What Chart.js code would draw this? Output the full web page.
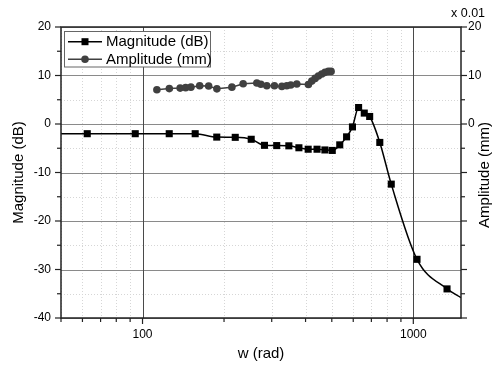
<!DOCTYPE html>
<html><head><meta charset="utf-8">
<script src="https://cdn.jsdelivr.net/npm/chart.js@4/dist/chart.umd.min.js"></script>
<style>html,body{margin:0;padding:0;background:#fff;}canvas{display:block}</style>
</head><body>
<canvas id="c" width="494" height="366"></canvas>
<script>
// Magnitude (dB) markers
const magW  = [62.5, 94, 125.5, 156.5, 188, 220, 252, 282, 313, 347, 378, 409, 441, 471.5, 502, 535, 567, 596, 628, 659, 690, 752, 829, 1032, 1332];
const magDb = [-2.0, -2.0, -2.0, -2.0, -2.7, -2.75, -3.15, -4.4, -4.45, -4.5, -4.9, -5.2, -5.2, -5.35, -5.45, -4.3, -2.65, -0.6, 3.4, 2.25, 1.55, -3.8, -12.4, -27.9, -34.0];
// ends of the fitted magnitude curve (read at plot edges)
const curveEndW  = [50, 1500];
const curveEndDb = [-2.0, -35.8];
// Amplitude (x0.01 mm)
const ampW   = [113, 125.6, 137.7, 144.3, 150.9, 162.6, 175.5, 188.2, 213.8, 235.3, 264.3, 273.5, 287.7, 307, 327, 341, 352.8, 371.3, 409.8, 421.8, 433.8, 446.1, 459.2, 472.2, 485.7, 497];
const ampVal = [7.07, 7.3, 7.4, 7.5, 7.6, 7.9, 7.85, 7.25, 7.6, 8.3, 8.45, 8.2, 7.9, 7.9, 7.75, 7.9, 8.05, 8.25, 8.15, 8.85, 9.4, 9.9, 10.3, 10.65, 10.85, 10.85];
// ticks
const xMajor = [100, 1000];
const xMinor = [50, 60, 70, 80, 90, 200, 300, 400, 500, 600, 700, 800, 900];
const yMajor = [-40, -30, -20, -10, 0, 10, 20];
const yMinor = [-35, -25, -15, -5, 5, 15];
const rightLabels = [0, 10, 20];

const FONT = "'Liberation Sans', Arial, sans-serif";
Chart.defaults.font.family = FONT;
Chart.defaults.color = '#000';

const curve = [{x: curveEndW[0], y: curveEndDb[0]}]
  .concat(magW.map((w, i) => ({x: w, y: magDb[i]})))
  .concat([{x: curveEndW[1], y: curveEndDb[1]}]);

const custom = {
  id: 'custom',
  beforeDatasetsDraw(chart) {
    const {ctx, chartArea: a, scales: {x, y}} = chart;
    ctx.save();
    ctx.lineWidth = 1;
    const hl = (v, col, dash) => { const p = Math.round(y.getPixelForValue(v)) + 0.5; ctx.strokeStyle = col; ctx.setLineDash(dash); ctx.beginPath(); ctx.moveTo(a.left, p); ctx.lineTo(a.right, p); ctx.stroke(); };
    const vl = (v, col, dash) => { const p = Math.round(x.getPixelForValue(v)) + 0.5; ctx.strokeStyle = col; ctx.setLineDash(dash); ctx.beginPath(); ctx.moveTo(p, a.top); ctx.lineTo(p, a.bottom); ctx.stroke(); };
    xMinor.forEach(v => vl(v, '#d6d6d6', [1, 2]));
    yMinor.forEach(v => hl(v, '#d6d6d6', [1, 2]));
    yMajor.forEach(v => hl(v, '#8a8a8a', []));
    xMajor.forEach(v => vl(v, '#4a4a4a', []));
    ctx.restore();
  },
  afterDatasetsDraw(chart) {
    const {ctx, chartArea: a, scales: {x, y}} = chart;
    ctx.save();
    // frame
    ctx.strokeStyle = '#222'; ctx.lineWidth = 1.5; ctx.setLineDash([]);
    ctx.strokeRect(a.left, a.top, a.right - a.left, a.bottom - a.top);
    // ticks
    ctx.lineWidth = 1.2;
    const seg = (x1, y1, x2, y2) => { ctx.beginPath(); ctx.moveTo(x1, y1); ctx.lineTo(x2, y2); ctx.stroke(); };
    yMajor.forEach(v => { const p = y.getPixelForValue(v); seg(a.left - 6, p, a.left, p); seg(a.right, p, a.right + 6, p); });
    yMinor.forEach(v => { const p = y.getPixelForValue(v); seg(a.left - 4, p, a.left, p); seg(a.right, p, a.right + 4, p); });
    xMajor.forEach(v => { const p = x.getPixelForValue(v); seg(p, a.bottom, p, a.bottom + 6); });
    xMinor.forEach(v => { const p = x.getPixelForValue(v); seg(p, a.bottom, p, a.bottom + 4); });
    // right title
    ctx.fillStyle = '#000';
    ctx.font = '15px ' + FONT;
    ctx.textAlign = 'center'; ctx.textBaseline = 'middle';
    ctx.translate(485, 175); ctx.rotate(-Math.PI / 2);
    ctx.fillText('Amplitude (mm)', 0, 0);
    ctx.setTransform(1, 0, 0, 1, 0, 0);
    ctx.font = '12.5px ' + FONT; ctx.textAlign = 'left';
    ctx.fillText('x 0.01', 451, 14);
    // legend
    ctx.fillStyle = '#fff'; ctx.strokeStyle = '#666'; ctx.lineWidth = 1;
    ctx.fillRect(64.5, 31.5, 146, 35.5); ctx.strokeRect(64.5, 31.5, 146, 35.5);
    const r1 = 41.7, r2 = 59.3;
    ctx.lineWidth = 1.5;
    ctx.strokeStyle = '#000'; seg(68, r1, 102, r1);
    ctx.fillStyle = '#000'; ctx.fillRect(85 - 3.5, r1 - 3.5, 7, 7);
    ctx.strokeStyle = '#404040'; seg(68, r2, 102, r2);
    ctx.fillStyle = '#404040'; ctx.beginPath(); ctx.arc(85, r2, 3.8, 0, Math.PI * 2); ctx.fill();
    ctx.fillStyle = '#000'; ctx.font = '15px ' + FONT; ctx.textAlign = 'left'; ctx.textBaseline = 'middle';
    ctx.fillText('Magnitude (dB)', 106, r1 + 0.5);
    ctx.fillText('Amplitude (mm)', 106, r2 + 0.5);
    ctx.restore();
  }
};

new Chart(document.getElementById('c'), {
  type: 'scatter',
  data: {
    datasets: [
      {label: 'Amplitude (mm)', data: ampW.map((w, i) => ({x: w, y: ampVal[i]})), yAxisID: 'y2', showLine: true,
       borderColor: '#404040', backgroundColor: '#404040', borderWidth: 1.5, pointRadius: 3.8, pointBorderWidth: 0, pointStyle: 'circle'},
      {label: 'fit', data: curve, yAxisID: 'y', showLine: true, cubicInterpolationMode: 'monotone',
       borderColor: '#000', borderWidth: 1.5, pointRadius: 0},
      {label: 'Magnitude (dB)', data: magW.map((w, i) => ({x: w, y: magDb[i]})), yAxisID: 'y', showLine: false,
       backgroundColor: '#000', borderColor: '#000', pointStyle: 'rect', pointRadius: 5, pointBorderWidth: 0}
    ]
  },
  options: {
    responsive: false, animation: false, devicePixelRatio: 1,
    layout: {padding: {top: 27, left: 0, right: 0, bottom: 0}},
    plugins: {legend: {display: false}, tooltip: {enabled: false}},
    scales: {
      x: {type: 'logarithmic', position: 'bottom', min: 50, max: 1500,
          grid: {display: false, drawTicks: false}, border: {display: false},
          ticks: {autoSkip: false, maxRotation: 0, padding: 9, font: {size: 12}, color: '#000',
                  callback: v => (v === 100 || v === 1000) ? String(v) : ''},
          title: {display: true, text: 'w (rad)', font: {size: 15}, color: '#000', padding: {top: 0, bottom: 3}},
          afterFit: s => { s.height = 48; }},
      y: {position: 'left', min: -40, max: 20,
          grid: {display: false, drawTicks: false}, border: {display: false},
          ticks: {stepSize: 10, padding: 10, font: {size: 12}, color: '#000'},
          title: {display: true, text: 'Magnitude (dB)', font: {size: 15}, color: '#000', padding: {top: 10, bottom: 0}},
          afterFit: s => { s.width = 61; }},
      y2: {position: 'right', min: -40, max: 20,
          grid: {display: false, drawTicks: false}, border: {display: false},
          ticks: {stepSize: 10, padding: 7, font: {size: 12}, color: '#000',
                  callback: v => rightLabels.includes(v) ? String(v) : ''},
          afterFit: s => { s.width = 33; }}
    }
  },
  plugins: [custom]
});
</script>
</body></html>
